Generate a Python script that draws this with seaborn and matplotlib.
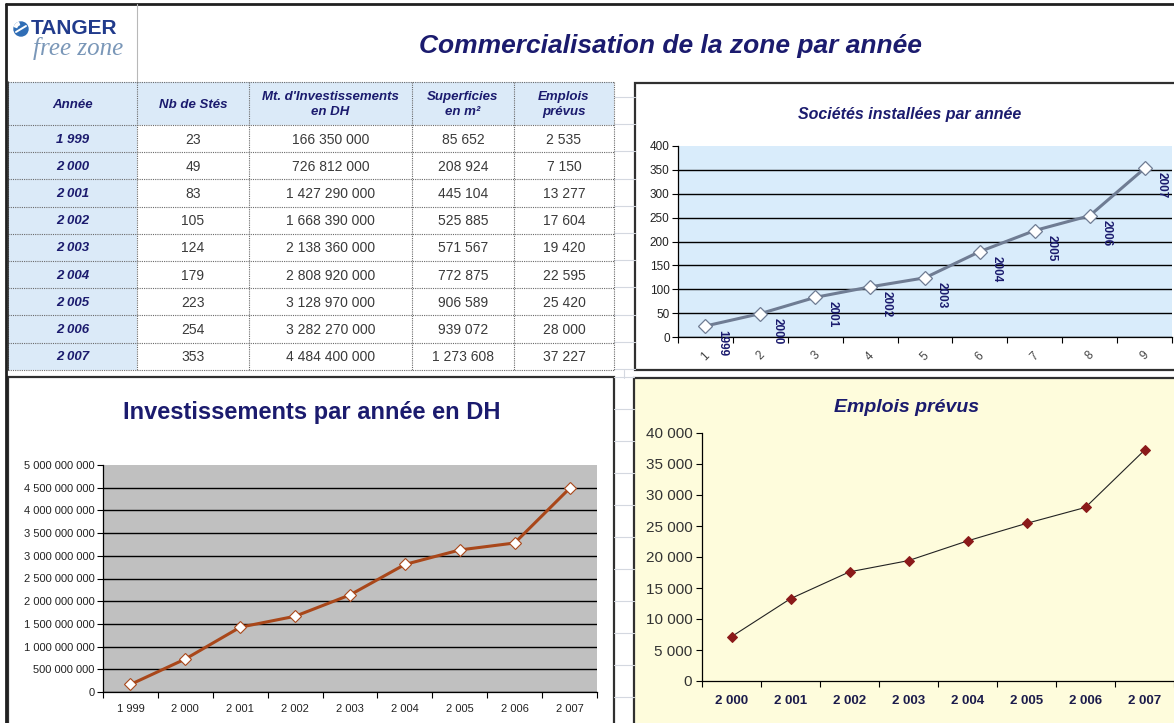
import numpy as np
import pandas as pd
import matplotlib
matplotlib.use("Agg")
import matplotlib.pyplot as plt
import seaborn as sns
from matplotlib.patches import Rectangle, Circle, Wedge
from matplotlib.ticker import FuncFormatter

# ---------------- data ----------------
years = [1999, 2000, 2001, 2002, 2003, 2004, 2005, 2006, 2007]
nb_stes = [23, 49, 83, 105, 124, 179, 223, 254, 353]
investissements = [166350000, 726812000, 1427290000, 1668390000, 2138360000,
                   2808920000, 3128970000, 3282270000, 4484400000]
superficies = [85652, 208924, 445104, 525885, 571567, 772875, 906589, 939072, 1273608]
emplois = [2535, 7150, 13277, 17604, 19420, 22595, 25420, 28000, 37227]
col_headers = ["Année", "Nb de Stés", "Mt. d'Investissements\nen DH",
               "Superficies\nen m²", "Emplois\nprévus"]
societes_xlabels = ["1", "2", "3", "4", "5", "6", "7", "8", "9"]
emplois_years = years[1:]
emplois_values = emplois[1:]

main_title = "Commercialisation de la zone par année"
title_societes = "Sociétés installées par année"
title_invest = "Investissements par année en DH"
title_emplois = "Emplois prévus"

# ---------------- style ----------------
sns.set_style("white")
plt.rcParams['font.family'] = ['Liberation Sans', 'DejaVu Sans']

W, H = 1174, 723
fig = plt.figure(figsize=(W / 100, H / 100), dpi=100)
fig.patch.set_facecolor("white")

NAVY = "#1b1b6e"


def fmt(v):
    return f"{int(v):,}".replace(",", " ")


def px_axes(x0, y0, x1, y1, **kw):
    return fig.add_axes([x0 / W, 1 - y1 / H, (x1 - x0) / W, (y1 - y0) / H], **kw)


# background canvas (pixel coordinates)
bg = fig.add_axes([0, 0, 1, 1], zorder=0)
bg.set_xlim(0, W)
bg.set_ylim(H, 0)
bg.axis("off")

# faint spreadsheet grid in gaps
for yy in np.arange(377, H, 32):
    bg.plot([614, 634], [yy, yy], color="#d4d8e0", lw=0.8)
for yy in np.arange(97, 372, 27.2):
    bg.plot([614, 635], [yy, yy], color="#d4d8e0", lw=0.8)
bg.plot([624, 624], [370, 378], color="#d4d8e0", lw=0.8)

# outer frame
bg.plot([6, 6], [4, H], color="#202020", lw=2)
bg.plot([6, W], [4, 4], color="#202020", lw=2)
bg.plot([137, 137], [4, 82], color="#b8b8b8", lw=0.8)

# ---------- logo ----------
bg.add_patch(Circle((21, 29), 7, color="#2f6db5", zorder=3))
bg.add_patch(Wedge((21, 29), 7, 200, 250, color="white", width=2.5, zorder=4))
bg.plot([16, 26], [32, 26], color="white", lw=1.4, zorder=4)
bg.text(31, 28, "TANGER", ha="left", va="center", fontsize=15, fontweight="bold",
        color="#213b8c", zorder=3)
bg.text(78, 49, "free zone", ha="center", va="center", fontsize=18, style="italic",
        color="#7a97b8", family=["Liberation Serif", "DejaVu Serif"], zorder=2)

# main title
bg.text(670, 46, main_title, ha="center", va="center", fontsize=19,
        fontweight="bold", style="italic", color=NAVY)

# ---------- table ----------
col_x = [8, 137, 249, 412, 514, 614]
row_h = 27.2
row_y = [82, 125] + [125 + row_h * (i + 1) for i in range(len(years))]
LIGHT = "#dbeaf8"

for r in range(len(row_y) - 1):
    for c in range(len(col_x) - 1):
        fc = LIGHT if (r == 0 or c == 0) else "white"
        bg.add_patch(Rectangle((col_x[c], row_y[r]), col_x[c + 1] - col_x[c],
                               row_y[r + 1] - row_y[r], facecolor=fc, edgecolor="none",
                               zorder=1))
for yy in row_y:
    bg.plot([col_x[0], col_x[-1]], [yy, yy], color="#6a6a6a", lw=0.8,
            linestyle=(0, (1, 1)), zorder=2)
for xx in col_x:
    bg.plot([xx, xx], [row_y[0], row_y[-1]], color="#6a6a6a", lw=0.8,
            linestyle=(0, (1, 1)), zorder=2)
bg.plot([8, 8], [row_y[0], row_y[-1]], color="#303030", lw=1.2, zorder=2)

for c, head in enumerate(col_headers):
    cx = (col_x[c] + col_x[c + 1]) / 2
    bg.text(cx, (row_y[0] + row_y[1]) / 2 + 1, head, ha="center", va="center",
            fontsize=9.5, fontweight="bold", style="italic", color=NAVY,
            linespacing=1.35, zorder=3)

columns = [years, nb_stes, investissements, superficies, emplois]
for r in range(len(years)):
    cy = (row_y[r + 1] + row_y[r + 2]) / 2 + 1
    for c, col in enumerate(columns):
        cx = (col_x[c] + col_x[c + 1]) / 2
        if c == 0:
            bg.text(cx, cy, fmt(col[r]), ha="center", va="center", fontsize=9.5,
                    fontweight="bold", style="italic", color=NAVY, zorder=3)
        else:
            bg.text(cx, cy, fmt(col[r]), ha="center", va="center", fontsize=10,
                    color="#3a3a3a", zorder=3)

# ---------- chart boxes ----------
bg.add_patch(Rectangle((635, 83), W - 635 + 5, 370 - 83, facecolor="white",
                       edgecolor="#303030", lw=1.6, zorder=1))
bg.add_patch(Rectangle((8, 377), 614 - 8, H - 377 + 5, facecolor="white",
                       edgecolor="#303030", lw=1.6, zorder=1))
bg.add_patch(Rectangle((634, 378), W - 634 + 5, H - 378 + 5, facecolor="#fefcdc",
                       edgecolor="#303030", lw=1.6, zorder=1))


def category_axis(ax, n, labels, **label_kw):
    ax.set_xlim(-0.5, n - 0.5)
    ax.set_xticks(np.arange(-0.5, n, 1.0))
    ax.set_xticklabels([])
    ax.set_xticks(np.arange(n), minor=True)
    ax.set_xticklabels(labels, minor=True, **label_kw)
    ax.tick_params(axis="x", which="major", direction="out", length=4, width=0.8,
                   color="black", bottom=True)
    ax.tick_params(axis="x", which="minor", length=0, bottom=True)
    ax.tick_params(axis="y", which="major", direction="out", length=4, width=0.8,
                   color="black", left=True)
    for s in ["top", "right"]:
        ax.spines[s].set_visible(False)
    for s in ["left", "bottom"]:
        ax.spines[s].set_color("black")
        ax.spines[s].set_linewidth(0.9)


# ---------- Sociétés installées ----------
bg.text(910, 115, title_societes, ha="center", va="center", fontsize=11.5,
        fontweight="bold", style="italic", color=NAVY)
ax1 = px_axes(678, 146, 1172, 337, zorder=2)
ax1.set_facecolor("#d9ecfb")
df1 = pd.DataFrame({"pos": np.arange(len(nb_stes)), "val": nb_stes})
sns.lineplot(data=df1, x="pos", y="val", ax=ax1, color="#6f7c93", lw=2.2,
             marker="D", markersize=7, markerfacecolor="white",
             markeredgecolor="#6f7c93", markeredgewidth=0.9, zorder=4)
ax1.set_ylim(0, 400)
ax1.set_yticks(np.arange(0, 401, 50))
ax1.tick_params(axis="y", labelsize=8.5, labelcolor="#222222", pad=2)
category_axis(ax1, len(nb_stes), societes_xlabels, rotation=45, fontsize=8.5,
              color="#444444")
ax1.tick_params(axis="x", which="minor", pad=9)
ax1.yaxis.grid(True, color="black", lw=1.0)
ax1.get_ygridlines()[-1].set_visible(False)
ax1.set_axisbelow(True)
ax1.set_xlabel("")
ax1.set_ylabel("")
for i, (yr, v) in enumerate(zip(years, nb_stes)):
    ax1.annotate(str(yr), xy=(i, v), xytext=(11, -4), textcoords="offset pixels",
                 rotation=270, ha="left", va="top", fontsize=8.5, fontweight="bold",
                 color=NAVY, zorder=5, annotation_clip=False)

# ---------- Investissements ----------
bg.text(312, 413, title_invest, ha="center", va="center", fontsize=17,
        fontweight="bold", color=NAVY)
ax2 = px_axes(103, 465, 597, 692, zorder=2)
ax2.set_facecolor("#c0c0c0")
df2 = pd.DataFrame({"pos": np.arange(len(investissements)), "val": investissements})
sns.lineplot(data=df2, x="pos", y="val", ax=ax2, color="#a9471a", lw=2.2,
             marker="D", markersize=6.5, markerfacecolor="white",
             markeredgecolor="#a9471a", markeredgewidth=0.8, zorder=4)
ax2.set_ylim(0, 5e9)
ax2.set_yticks(np.arange(0, 5e9 + 1, 5e8))
ax2.yaxis.set_major_formatter(FuncFormatter(lambda v, p: fmt(v)))
ax2.tick_params(axis="y", labelsize=8, labelcolor="#222222", pad=2)
category_axis(ax2, len(years), [fmt(y) for y in years], fontsize=8,
              color="#222222")
ax2.tick_params(axis="x", which="minor", pad=9)
ax2.yaxis.grid(True, color="black", lw=1.0)
ax2.get_ygridlines()[-1].set_visible(False)
ax2.set_axisbelow(True)
ax2.set_xlabel("")
ax2.set_ylabel("")

# ---------- Emplois prévus ----------
bg.text(907, 408, title_emplois, ha="center", va="center", fontsize=14,
        fontweight="bold", style="italic", color=NAVY)
ax3 = px_axes(702, 433, 1174, 681, zorder=2)
ax3.set_facecolor("#fefcdc")
df3 = pd.DataFrame({"pos": np.arange(len(emplois_values)), "val": emplois_values})
sns.lineplot(data=df3, x="pos", y="val", ax=ax3, color="#222222", lw=0.8,
             marker="D", markersize=5.5, markerfacecolor="#8b1a1a",
             markeredgecolor="#8b1a1a", zorder=4)
ax3.set_ylim(0, 40000)
ax3.set_yticks(np.arange(0, 40001, 5000))
ax3.yaxis.set_major_formatter(FuncFormatter(lambda v, p: fmt(v)))
ax3.tick_params(axis="y", labelsize=11, labelcolor="#333333", pad=3)
category_axis(ax3, len(emplois_values), [fmt(y) for y in emplois_years],
              fontsize=9.5, fontweight="bold", color="#1b1b4b")
ax3.tick_params(axis="x", which="minor", pad=10)
ax3.set_xlabel("")
ax3.set_ylabel("")

fig.savefig("out.png", dpi=100)
